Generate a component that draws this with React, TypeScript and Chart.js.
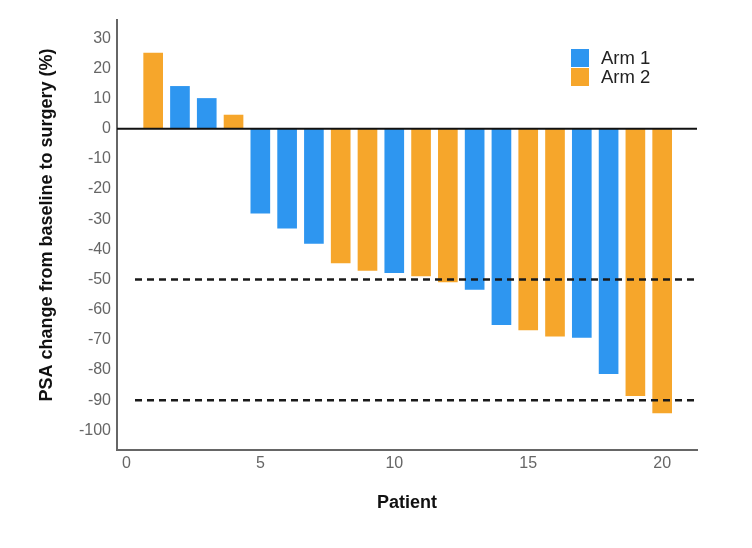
import React, { useEffect, useRef } from "react";
import { Chart, registerables } from "chart.js";

Chart.register(...registerables);

// ---- Data ----
const patients = [1, 2, 3, 4, 5, 6, 7, 8, 9, 10, 11, 12, 13, 14, 15, 16, 17, 18, 19, 20];
const psaChange = [25, 14, 10, 4.5, -28, -33, -38, -44.5, -47, -47.7, -48.8, -50.8, -53.3, -65, -66.7, -68.8, -69.2, -81.2, -88.5, -94.2];
const patientArm = [2, 1, 1, 2, 1, 1, 1, 2, 2, 1, 2, 2, 1, 1, 2, 2, 1, 1, 2, 2];
const armLabels = ["Arm 1", "Arm 2"];
const armColors = ["#2E96F0", "#F6A62B"];
const thresholdLines = [-50, -90];
const xTickValues = [0, 5, 10, 15, 20];
const yTickValues = [30, 20, 10, 0, -10, -20, -30, -40, -50, -60, -70, -80, -90, -100];
const yTitle = "PSA change from baseline to surgery (%)";
const xTitle = "Patient";

const FONT = "'Liberation Sans', Arial, Helvetica, sans-serif";

const refLinesPlugin = {
  id: "refLines",
  afterDatasetsDraw(chart: any) {
    const { ctx, chartArea, scales } = chart;
    const y = scales.y;
    ctx.save();
    const y0 = y.getPixelForValue(0);
    ctx.strokeStyle = "#111";
    ctx.lineWidth = 2;
    ctx.setLineDash([]);
    ctx.beginPath();
    ctx.moveTo(chartArea.left, y0);
    ctx.lineTo(chartArea.right, y0);
    ctx.stroke();
    ctx.strokeStyle = "#1a1a1a";
    ctx.lineWidth = 2.5;
    ctx.setLineDash([7, 5]);
    thresholdLines.forEach((v) => {
      const py = y.getPixelForValue(v);
      ctx.beginPath();
      ctx.moveTo(chartArea.left + 18, py);
      ctx.lineTo(chartArea.right + 2, py);
      ctx.stroke();
    });
    ctx.restore();
  },
};

const overlayPlugin = {
  id: "overlay",
  afterDraw(chart: any) {
    const { ctx, chartArea } = chart;
    ctx.save();
    // legend
    const bx = chartArea.right - 126;
    const by = chartArea.top + 29;
    armLabels.forEach((label, i) => {
      const top = by + i * 19;
      ctx.fillStyle = armColors[i];
      ctx.fillRect(bx, top, 18, 18);
      ctx.fillStyle = "#222";
      ctx.font = `18.5px ${FONT}`;
      ctx.textAlign = "left";
      ctx.textBaseline = "middle";
      ctx.fillText(label, bx + 30, top + 10);
    });
    // y-axis title
    ctx.translate(chartArea.left - 70, (chartArea.top + chartArea.bottom) / 2 - 10);
    ctx.rotate(-Math.PI / 2);
    ctx.fillStyle = "#111";
    ctx.font = `bold 18px ${FONT}`;
    ctx.textAlign = "center";
    ctx.textBaseline = "middle";
    ctx.fillText(yTitle, 0, 0);
    ctx.restore();
  },
};

export default function App() {
  const canvasRef = useRef<HTMLCanvasElement | null>(null);

  useEffect(() => {
    if (!canvasRef.current) return;
    const datasets = armLabels.map((label, a) => ({
      label,
      data: patients
        .map((p, i) => ({ x: p, y: psaChange[i], arm: patientArm[i] }))
        .filter((d) => d.arm === a + 1)
        .map((d) => ({ x: d.x, y: d.y })),
      backgroundColor: armColors[a],
      borderWidth: 0,
      barThickness: 19,
      grouped: false,
    }));

    const chart = new Chart(canvasRef.current, {
      type: "bar",
      data: { datasets },
      plugins: [refLinesPlugin, overlayPlugin],
      options: {
        animation: false,
        responsive: false,
        maintainAspectRatio: false,
        layout: { padding: { left: 37, top: 20, right: 55, bottom: 0 } },
        plugins: {
          legend: { display: false },
          tooltip: { enabled: false },
        },
        scales: {
          x: {
            type: "linear",
            offset: false,
            min: -0.35,
            max: 21.3,
            afterFit: (s: any) => {
              s.height = 98;
            },
            afterBuildTicks: (s: any) => {
              s.ticks = xTickValues.map((v) => ({ value: v }));
            },
            grid: { display: false, drawTicks: false, offset: false },
            border: { display: true, color: "#666", width: 2 },
            ticks: {
              padding: 4,
              color: "#666",
              font: { family: FONT, size: 16 },
            },
            title: {
              display: true,
              text: xTitle,
              color: "#111",
              font: { family: FONT, size: 18, weight: "bold" },
              padding: { top: 0, bottom: 34 },
            },
          },
          y: {
            type: "linear",
            min: -106.5,
            max: 36,
            afterFit: (s: any) => {
              s.width = 80;
            },
            afterBuildTicks: (s: any) => {
              s.ticks = yTickValues.map((v) => ({ value: v }));
            },
            grid: { display: false, drawTicks: false },
            border: { display: true, color: "#666", width: 2 },
            ticks: {
              padding: 6,
              color: "#666",
              font: { family: FONT, size: 16 },
            },
            title: { display: false },
          },
        },
      },
    } as any);
    return () => chart.destroy();
  }, []);

  return (
    <div style={{ position: "fixed", left: 0, top: 0, width: 752, height: 548, background: "#fff" }}>
      <canvas ref={canvasRef} width={752} height={548} style={{ display: "block" }} />
    </div>
  );
}
